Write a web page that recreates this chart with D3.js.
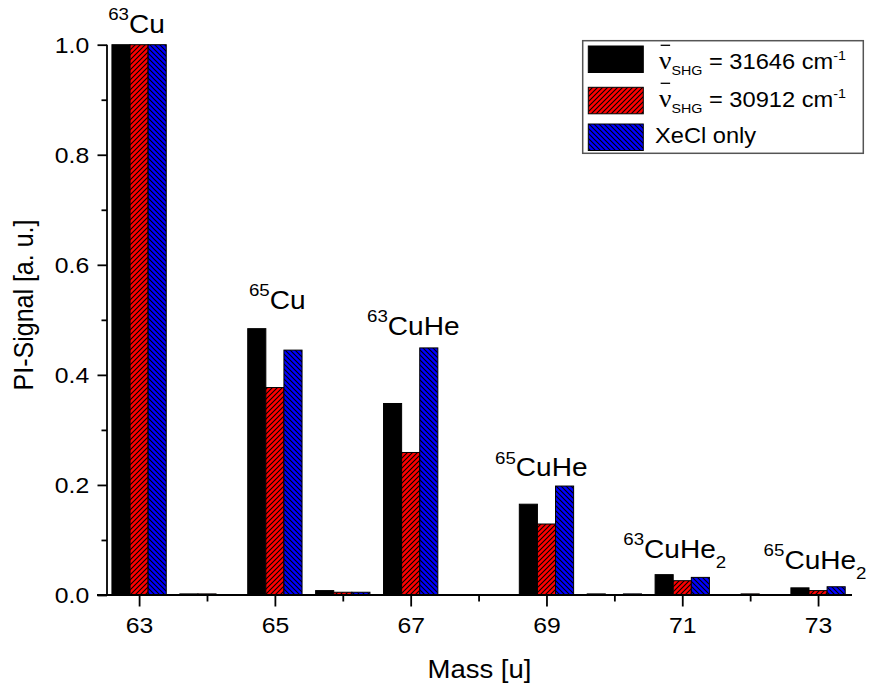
<!DOCTYPE html>
<html>
<head>
<meta charset="utf-8">
<script src="https://cdn.jsdelivr.net/npm/d3@7/dist/d3.min.js"></script>
<style>
  html, body { margin: 0; padding: 0; background: #fff; }
  svg { display: block; }
  text { font-family: "Liberation Sans", Arial, Helvetica, sans-serif; fill: #000; }
</style>
</head>
<body>
<svg id="chart" width="869" height="693"></svg>
<script>
// Mass channels (u)
const masses = [63, 64, 65, 66, 67, 68, 69, 70, 71, 72, 73];

// Normalised photo-ionisation signal per mass channel
const signalSHG31646 = [1.0, 0.002, 0.484, 0.008, 0.348, 0, 0.165, 0.002, 0.037, 0, 0.013];
const signalSHG30912 = [1.0, 0.002, 0.377, 0.005, 0.259, 0, 0.129, 0, 0.026, 0.002, 0.008];
const signalXeCl     = [1.0, 0,     0.445, 0.005, 0.449, 0, 0.198, 0.002, 0.032, 0, 0.015];

// Axis ticks
const xMajorTicks = [63, 65, 67, 69, 71, 73];
const xMinorTicks = [64, 66, 68, 70, 72];
const yMajorTicks = [0.0, 0.2, 0.4, 0.6, 0.8, 1.0];
const yMinorTicks = [0.1, 0.3, 0.5, 0.7, 0.9];

// Peak assignments
const peakMass     = [63, 65, 67, 69, 71, 73];
const peakIsotope  = ["63", "65", "63", "65", "63", "65"];
const peakFormula  = ["Cu", "Cu", "CuHe", "CuHe", "CuHe", "CuHe"];
const peakSubscript = ["", "", "", "", "2", "2"];

// Legend entries
const legendWavenumbers = ["31646", "30912"];
const legendLaserOnly = "XeCl only";

const svg = d3.select("#chart");
const SX = 1.1; // horizontal text stretch

const x = d3.scaleLinear().domain([62.38, 73.5]).range([97, 852]);
const y = d3.scaleLinear().domain([0, 1]).range([595, 44.7]);
const yAxisX = 107;

// Hatch patterns
const defs = svg.append("defs");
function hatch(id, color, d) {
  const p = defs.append("pattern")
    .attr("id", id).attr("patternUnits", "userSpaceOnUse")
    .attr("width", 5).attr("height", 5);
  p.append("rect").attr("width", 5).attr("height", 5).attr("fill", color);
  p.append("path").attr("d", d).attr("stroke", "#000").attr("stroke-width", 1.1)
    .attr("shape-rendering", "auto");
}
hatch("hatchRed", "#ff0000", "M0,5 L5,0 M-1,1 L1,-1 M4,6 L6,4");
hatch("hatchBlue", "#0000ff", "M0,0 L5,5 M-1,4 L1,6 M4,-1 L6,1");

const series = [
  { values: signalSHG31646, fill: "#000000" },
  { values: signalSHG30912, fill: "url(#hatchRed)" },
  { values: signalXeCl,     fill: "url(#hatchBlue)" }
];

// Bars: three per mass channel, spanning +/-0.4 u
const groupHalf = 0.4;
const barU = (2 * groupHalf) / series.length;
series.forEach((s, si) => {
  svg.append("g").selectAll("rect")
    .data(masses.map((m, i) => ({ m, v: s.values[i] })))
    .join("rect")
    .attr("x", d => x(d.m - groupHalf + si * barU))
    .attr("width", d => x(d.m - groupHalf + (si + 1) * barU) - x(d.m - groupHalf + si * barU))
    .attr("y", d => y(d.v))
    .attr("height", d => y(0) - y(d.v))
    .attr("fill", s.fill)
    .attr("stroke", "#000")
    .attr("stroke-width", 1);
});

// X axis
const xAxisG = svg.append("g").attr("transform", `translate(0,${y(0)})`);
xAxisG.append("g")
  .call(d3.axisBottom(x).tickValues(xMinorTicks).tickSize(6.5).tickFormat(""))
  .call(g => g.select(".domain").remove());
xAxisG.append("g")
  .call(d3.axisBottom(x).tickValues(xMajorTicks).tickSize(11.5).tickSizeOuter(0).tickFormat(d3.format("d")))
  .call(g => g.select(".domain").remove())
  .call(g => g.selectAll("text")
    .attr("y", 22).attr("dy", "0.71em")
    .attr("transform", `scale(${SX},1)`)
    .style("font-size", "22.5px").style("font-family", null));
xAxisG.append("line").attr("x1", x.range()[0]).attr("x2", x.range()[1])
  .attr("stroke", "#000").attr("stroke-width", 1.8);
xAxisG.selectAll(".tick line").attr("stroke", "#000").attr("stroke-width", 1.8);

// Y axis
const yAxisG = svg.append("g").attr("transform", `translate(${yAxisX},0)`);
yAxisG.append("g")
  .call(d3.axisLeft(y).tickValues(yMinorTicks).tickSize(5.5).tickFormat(""))
  .call(g => g.select(".domain").remove());
yAxisG.append("g")
  .call(d3.axisLeft(y).tickValues(yMajorTicks).tickSize(9.5).tickSizeOuter(0).tickFormat(d3.format(".1f")))
  .call(g => g.select(".domain").remove())
  .call(g => g.selectAll("text")
    .attr("x", -16.2).attr("dy", "0.35em")
    .attr("transform", `scale(${SX},1)`)
    .style("font-size", "22.5px").style("font-family", null));
yAxisG.append("line").attr("y1", y(0)).attr("y2", y(1))
  .attr("stroke", "#000").attr("stroke-width", 1.8);
yAxisG.selectAll(".tick line").attr("stroke", "#000").attr("stroke-width", 1.8);

// Axis titles
svg.append("g").attr("transform", `translate(479.5,678.3) scale(${SX},1)`)
  .append("text").attr("text-anchor", "middle").style("font-size", "25px").text("Mass [u]");
svg.append("g").attr("transform", `translate(33.3,305) scale(${SX},1) rotate(-90)`)
  .append("text").attr("text-anchor", "middle").style("font-size", "25px").text("PI-Signal [a. u.]");

// Peak labels above each group
const labelDx  = [-2.6, 2.4, 2.6, -5.2, -7.5, -3];
const labelGap = [12, 20, 13, 10, 17, 18];
peakMass.forEach((m, k) => {
  const i = masses.indexOf(m);
  const top = Math.max(signalSHG31646[i], signalSHG30912[i], signalXeCl[i]);
  const g = svg.append("g")
    .attr("transform", `translate(${x(m) + labelDx[k]},${y(top) - labelGap[k]}) scale(${SX},1)`);
  const t = g.append("text").attr("text-anchor", "middle");
  t.append("tspan").attr("dy", -12.5).style("font-size", "17px").text(peakIsotope[k]);
  t.append("tspan").attr("dy", 12.5).style("font-size", "25.5px").text(peakFormula[k]);
  if (peakSubscript[k]) {
    t.append("tspan").attr("dy", 10).style("font-size", "17px").text(peakSubscript[k]);
  }
});

// Legend
const legend = svg.append("g");
legend.append("rect").attr("x", 582.7).attr("y", 40.7).attr("width", 280.6).attr("height", 112.6)
  .attr("fill", "#fff").attr("stroke", "#555").attr("stroke-width", 1.5);
const rowTop = [46, 87.3, 124];
const rowBase = [69.3, 107.3, 143.3];
series.forEach((s, si) => {
  legend.append("rect").attr("x", 588.3).attr("y", rowTop[si])
    .attr("width", 55).attr("height", 26.5)
    .attr("fill", s.fill).attr("stroke", "#000").attr("stroke-width", 1);
});
legendWavenumbers.forEach((w, si) => {
  const g = legend.append("g").attr("transform", `translate(659,${rowBase[si]}) scale(${SX},1)`);
  const t = g.append("text");
  t.append("tspan").style("font-family", "'Liberation Serif', 'Times New Roman', serif")
    .style("font-size", "25px").text("\u03BD");
  t.append("tspan").attr("dy", 5.7).style("font-size", "13px").text("SHG");
  t.append("tspan").attr("dy", -5.7).style("font-size", "21.5px").text(" = " + w + " cm");
  t.append("tspan").attr("dy", -9.3).style("font-size", "13px").text("-1");
  const node = t.node();
  const x0 = node.getStartPositionOfChar(0).x;
  const x1 = node.getEndPositionOfChar(0).x;
  g.append("line").attr("x1", x0 + 1.5).attr("x2", x1 - 1.2)
    .attr("y1", -24).attr("y2", -24)
    .attr("stroke", "#000").attr("stroke-width", 1.3);
});
legend.append("g").attr("transform", `translate(655,${rowBase[2]}) scale(${SX},1)`)
  .append("text").style("font-size", "21.5px").text(legendLaserOnly);
</script>
</body>
</html>
